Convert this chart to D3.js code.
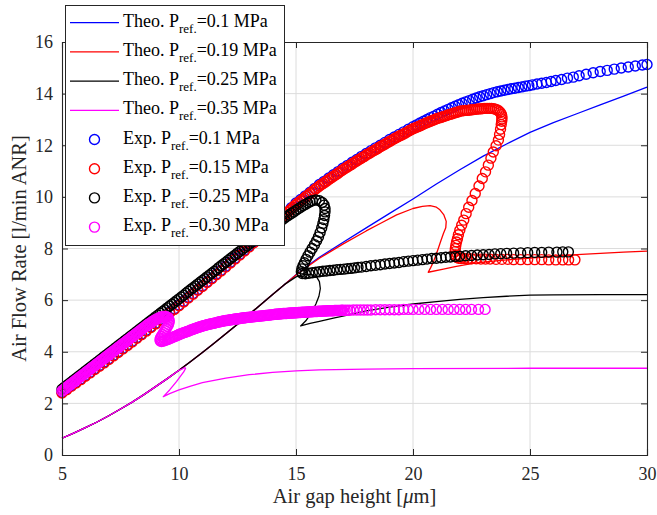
<!DOCTYPE html>
<html>
<head>
<meta charset="utf-8">
<script src="https://cdn.jsdelivr.net/npm/d3@7"></script>
<style>
  body { margin: 0; background: #fff; }
  svg { display: block; font-family: "Times New Roman", "Liberation Serif", serif; }
</style>
</head>
<body>
<div id="chart"></div>
<script>
// axis ticks
var xTicks = [5, 10, 15, 20, 25, 30];
var yTicks = [0, 2, 4, 6, 8, 10, 12, 14, 16];

// theoretical curves, [gap, flow]
var theoBase = [[5,0.65],[5.5,0.85],[6,1.06],[6.5,1.28],[7,1.52],[7.5,1.78],[8,2.05],[8.5,2.34],[9,2.65],[9.5,2.96],[10,3.28]];
var theoMid = [[10.5,3.62],[11,3.97],[11.5,4.33],[12,4.7],[12.5,5.07],[13,5.45],[13.5,5.83],[14,6.22],[14.5,6.6]];
var theoBlueTail = [[15,6.98],[15.5,7.33],[16,7.66],[17,8.23],[18,8.8],[19,9.36],[20,9.92],[21,10.5],[22,11.05],[23,11.58],[24,12.05],[25,12.5],[26,12.88],[27,13.22],[28,13.56],[29,13.9],[30,14.25]];
var theoRedTail = [[15,6.97],[15.5,7.3],[16,7.62],[17,8.17],[18,8.68],[18.6,8.97],[19.3,9.3],[20,9.55],[20.4,9.63],[20.73,9.66],[21,9.6],[21.15,9.5],[21.32,9.3],[21.42,9.05],[21.4,8.8],[21.3,8.58],[21.18,8.27],[21.08,8.0],[20.97,7.72],[20.87,7.48],[20.75,7.25],[20.65,7.08],[21.3,7.2],[21.8,7.3],[22.5,7.41],[23,7.47],[24,7.56],[25,7.63],[26,7.7],[27,7.76],[28,7.81],[29,7.86],[30,7.9]];
var theoBlackTail = [[15,6.9],[15.35,7.0],[15.65,7.0],[15.88,6.9],[16.0,6.72],[16.04,6.45],[15.98,6.15],[15.85,5.85],[15.65,5.5],[15.42,5.2],[15.2,5.0],[15.6,5.1],[16,5.18],[16.6,5.3],[17.2,5.42],[18,5.58],[19,5.73],[20,5.85],[21,5.94],[22,6.03],[23,6.1],[24,6.15],[25,6.19],[26,6.2],[28,6.21],[30,6.21]];
var theoMagentaTail = [[10.15,3.34],[10.25,3.39],[10.28,3.35],[10.2,3.22],[9.9,2.85],[9.6,2.52],[9.33,2.26],[9.6,2.38],[10,2.52],[10.5,2.67],[11,2.8],[12,2.98],[13,3.11],[14,3.2],[15,3.26],[16,3.3],[18,3.33],[20,3.35],[25,3.36],[30,3.36]];

// experimental points, [gap, flow]
var expBlue = [[5,2.43],[5.2,2.56],[5.4,2.69],[5.6,2.82],[5.8,2.95],[6,3.08],[6.2,3.21],[6.4,3.34],[6.6,3.47],[6.8,3.6],[7,3.73],[7.2,3.87],[7.4,4.0],[7.6,4.14],[7.8,4.27],[8,4.41],[8.2,4.55],[8.4,4.69],[8.6,4.83],[8.8,4.97],[9,5.11],[9.2,5.25],[9.4,5.39],[9.6,5.53],[9.8,5.67],[10,5.81],[10.2,5.96],[10.4,6.11],[10.6,6.26],[10.8,6.41],[11,6.56],[11.2,6.71],[11.4,6.86],[11.6,7.01],[11.8,7.16],[12,7.31],[12.2,7.47],[12.4,7.62],[12.6,7.78],[12.8,7.93],[13,8.09],[13.2,8.25],[13.4,8.41],[13.6,8.57],[13.8,8.73],[14,8.9],[14.2,9.07],[14.4,9.24],[14.6,9.41],[14.8,9.58],[15,9.76],[15.2,9.9],[15.4,10.04],[15.6,10.18],[15.8,10.33],[16,10.48],[16.2,10.6],[16.4,10.73],[16.6,10.86],[16.8,10.98],[17,11.11],[17.2,11.22],[17.4,11.34],[17.6,11.45],[17.8,11.57],[18,11.68],[18.2,11.79],[18.4,11.9],[18.6,12.0],[18.8,12.11],[19,12.22],[19.2,12.32],[19.4,12.42],[19.6,12.52],[19.8,12.62],[20,12.72],[20.15,12.79],[20.3,12.86],[20.45,12.93],[20.6,13.0],[20.75,13.07],[20.9,13.13],[21.05,13.2],[21.2,13.27],[21.35,13.33],[21.5,13.39],[21.65,13.45],[21.8,13.51],[21.95,13.57],[22.1,13.63],[22.25,13.68],[22.4,13.73],[22.55,13.78],[22.7,13.83],[22.85,13.88],[23,13.92],[23.15,13.96],[23.3,14.0],[23.45,14.04],[23.6,14.07],[23.75,14.1],[23.9,14.13],[24.05,14.16],[24.2,14.19],[24.35,14.21],[24.5,14.24],[24.65,14.26],[24.8,14.29],[24.95,14.31],[25.1,14.34],[25.3,14.37],[25.5,14.4],[25.7,14.43],[25.9,14.47],[26.1,14.51],[26.35,14.55],[26.6,14.6],[26.85,14.64],[27.1,14.69],[27.4,14.75],[27.7,14.81],[28,14.86],[28.3,14.9],[28.6,14.95],[28.9,14.99],[29.2,15.03],[29.5,15.07],[29.8,15.11],[30,15.13]];

var expRed = [[5,2.4],[5.2,2.53],[5.4,2.66],[5.6,2.79],[5.8,2.92],[6,3.05],[6.2,3.18],[6.4,3.31],[6.6,3.44],[6.8,3.57],[7,3.7],[7.2,3.84],[7.4,3.97],[7.6,4.11],[7.8,4.24],[8,4.38],[8.2,4.52],[8.4,4.66],[8.6,4.8],[8.8,4.94],[9,5.08],[9.2,5.22],[9.4,5.36],[9.6,5.5],[9.8,5.64],[10,5.78],[10.2,5.93],[10.4,6.08],[10.6,6.23],[10.8,6.38],[11,6.53],[11.2,6.68],[11.4,6.83],[11.6,6.98],[11.8,7.13],[12,7.28],[12.2,7.44],[12.4,7.59],[12.6,7.75],[12.8,7.9],[13,8.06],[13.2,8.22],[13.4,8.38],[13.6,8.54],[13.8,8.7],
    [14,8.86],[14.08,8.93],[14.16,9.0],[14.24,9.06],[14.32,9.13],[14.4,9.2],[14.48,9.27],[14.56,9.33],[14.64,9.4],[14.72,9.46],[14.8,9.53],[14.88,9.6],[14.96,9.67],[15.04,9.73],[15.12,9.79],[15.2,9.84],[15.28,9.9],[15.36,9.96],[15.44,10.02],[15.52,10.07],[15.6,10.13],[15.68,10.19],[15.76,10.25],[15.84,10.31],[15.92,10.36],[16,10.42],
    [16.08,10.47],[16.16,10.52],[16.24,10.57],[16.32,10.62],[16.4,10.67],[16.48,10.72],[16.56,10.77],[16.64,10.82],[16.72,10.87],[16.8,10.92],[16.88,10.97],[16.96,11.02],[17.04,11.07],[17.12,11.12],[17.2,11.16],[17.28,11.21],[17.36,11.25],[17.44,11.3],[17.52,11.35],[17.6,11.39],[17.68,11.44],[17.76,11.48],[17.84,11.53],[17.92,11.57],[18,11.62],
    [18.08,11.66],[18.16,11.7],[18.24,11.75],[18.32,11.79],[18.4,11.83],[18.48,11.87],[18.56,11.92],[18.64,11.96],[18.72,12.0],[18.8,12.04],[18.88,12.09],[18.96,12.13],[19.04,12.17],[19.12,12.21],[19.2,12.25],[19.28,12.29],[19.36,12.33],[19.44,12.37],[19.52,12.4],[19.6,12.44],[19.68,12.48],[19.76,12.52],[19.84,12.56],[19.92,12.6],[20,12.64],
    [20.08,12.67],[20.16,12.7],[20.24,12.73],[20.32,12.76],[20.4,12.8],[20.48,12.83],[20.56,12.86],[20.64,12.89],[20.72,12.92],[20.8,12.95],[20.88,12.98],[20.96,13.01],[21.04,13.04],[21.12,13.06],[21.2,13.08],[21.28,13.11],[21.36,13.13],[21.44,13.15],[21.52,13.18],[21.6,13.2],[21.68,13.22],[21.76,13.25],[21.84,13.27],[21.92,13.29],[22,13.32],
    [22.08,13.33],[22.16,13.34],[22.24,13.35],[22.32,13.35],[22.4,13.36],[22.48,13.37],[22.56,13.38],[22.64,13.39],[22.72,13.4],[22.8,13.41],[22.88,13.41],[22.96,13.42],[23.04,13.43],[23.12,13.43],[23.2,13.43],[23.28,13.43],[23.36,13.43],[23.44,13.42],[23.52,13.4],[23.6,13.37],[23.67,13.33],[23.73,13.27],[23.78,13.19],[23.8,13.1],
    [23.8,13.02],[23.79,12.93],[23.77,12.8],[23.74,12.62],[23.7,12.42],[23.65,12.2],[23.55,11.98],[23.43,11.74],[23.33,11.5],[23.22,11.23],[23.1,10.97],[22.96,10.71],[22.82,10.42],[22.66,10.13],[22.52,9.86],[22.38,9.6],[22.27,9.35],[22.17,9.1],[22.08,8.9],[22.0,8.71],[21.94,8.53],[21.9,8.38],[21.86,8.25],[21.83,8.12],[21.81,8.0],[21.8,7.88],[21.82,7.75],[21.86,7.66],[21.95,7.62],[22.05,7.61],[22.2,7.61],[22.35,7.6],[22.5,7.6],[22.7,7.6],[22.9,7.59],[23.1,7.59],[23.3,7.59],[23.55,7.58],[23.8,7.58],[24.05,7.58],[24.3,7.57],[24.6,7.57],[24.9,7.57],[25.2,7.57],[25.5,7.57],[25.8,7.56],[26.1,7.56],[26.4,7.56],[26.65,7.56],[26.92,7.56]];

var expBlack = [[5,2.55],[5.1,2.62],[5.2,2.69],[5.3,2.76],[5.4,2.83],[5.5,2.9],[5.6,2.97],[5.7,3.04],[5.8,3.11],[5.9,3.18],[6,3.25],[6.1,3.32],[6.2,3.39],[6.3,3.46],[6.4,3.53],[6.5,3.6],[6.6,3.67],[6.7,3.74],[6.8,3.81],[6.9,3.88],[7,3.95],[7.1,4.02],[7.2,4.09],[7.3,4.16],[7.4,4.23],[7.5,4.3],[7.6,4.37],[7.7,4.44],[7.8,4.51],[7.9,4.58],[8,4.65],[8.1,4.72],[8.2,4.79],[8.3,4.86],[8.4,4.93],[8.5,5.0],[8.6,5.07],[8.7,5.14],[8.8,5.21],[8.9,5.28],[9,5.35],[9.1,5.42],[9.2,5.49],[9.3,5.56],[9.4,5.63],[9.5,5.7],[9.6,5.77],[9.7,5.84],[9.8,5.91],[9.9,5.98],
    [10,6.05],[10.1,6.12],[10.2,6.19],[10.3,6.27],[10.4,6.34],[10.5,6.41],[10.6,6.48],[10.7,6.55],[10.8,6.62],[10.9,6.69],[11,6.76],[11.1,6.83],[11.2,6.9],[11.3,6.97],[11.4,7.04],[11.5,7.11],[11.6,7.18],[11.7,7.26],[11.8,7.33],[11.9,7.4],[12,7.47],[12.1,7.54],[12.2,7.61],[12.3,7.68],[12.4,7.75],[12.5,7.82],[12.6,7.89],[12.7,7.96],[12.8,8.03],[12.9,8.1],[13,8.17],[13.1,8.24],[13.2,8.31],[13.3,8.38],[13.4,8.45],[13.5,8.51],[13.6,8.58],[13.7,8.65],[13.8,8.72],[13.9,8.78],[14,8.85],[14.1,8.91],[14.2,8.98],[14.3,9.04],[14.4,9.11],[14.5,9.17],[14.6,9.24],[14.7,9.3],[14.8,9.36],[14.9,9.42],[15,9.48],[15.1,9.54],[15.2,9.6],[15.3,9.66],[15.4,9.71],[15.5,9.76],[15.6,9.81],[15.7,9.85],
    [15.85,9.88],[16,9.85],[16.12,9.78],[16.2,9.68],[16.24,9.55],[16.24,9.42],[16.22,9.28],[16.19,9.12],[16.15,8.97],[16.1,8.8],[16.03,8.62],[15.96,8.45],[15.88,8.3],[15.79,8.15],[15.69,8.0],[15.6,7.86],[15.51,7.72],[15.43,7.58],[15.36,7.45],[15.3,7.33],[15.25,7.21],[15.23,7.1],[15.27,7.03],
    [15.4,7.02],[15.55,7.04],[15.7,7.06],[15.85,7.08],[16,7.1],[16.15,7.12],[16.3,7.13],[16.45,7.15],[16.6,7.16],[16.75,7.18],[16.9,7.19],[17.05,7.2],[17.2,7.22],[17.35,7.23],[17.5,7.25],[17.65,7.27],[17.8,7.28],[18,7.3],[18.2,7.33],[18.4,7.35],[18.6,7.37],[18.8,7.4],[19,7.42],[19.2,7.44],[19.4,7.46],[19.6,7.49],[19.8,7.51],[20,7.53],[20.2,7.55],[20.4,7.57],[20.6,7.59],[20.8,7.61],[21,7.62],[21.2,7.64],[21.4,7.66],[21.6,7.67],[21.8,7.69],[22,7.7],[22.25,7.72],[22.5,7.73],[22.75,7.75],[23,7.76],[23.25,7.77],[23.5,7.79],[23.75,7.8],[24,7.81],[24.3,7.82],[24.6,7.83],[24.9,7.84],[25.2,7.85],[25.5,7.85],[25.8,7.86],[26.15,7.86],[26.4,7.87],[26.64,7.87]];

var expMagenta = [[5,2.48],[5.05,2.52],[5.1,2.55],[5.15,2.59],[5.2,2.62],[5.25,2.66],[5.3,2.69],[5.35,2.73],[5.4,2.76],[5.45,2.8],[5.5,2.83],[5.55,2.87],[5.6,2.9],[5.65,2.94],[5.7,2.97],[5.75,3.01],[5.8,3.04],[5.85,3.08],[5.9,3.11],[5.95,3.15],[6,3.18],[6.05,3.22],[6.1,3.25],[6.15,3.29],[6.2,3.32],[6.25,3.36],[6.3,3.39],[6.35,3.43],[6.4,3.46],[6.45,3.5],[6.5,3.53],[6.55,3.57],[6.6,3.6],[6.65,3.64],[6.7,3.67],[6.75,3.71],[6.8,3.74],[6.85,3.78],[6.9,3.81],[6.95,3.85],
    [7,3.88],[7.05,3.92],[7.1,3.95],[7.15,3.99],[7.2,4.02],[7.25,4.06],[7.3,4.09],[7.35,4.13],[7.4,4.16],[7.45,4.2],[7.5,4.23],[7.55,4.27],[7.6,4.3],[7.65,4.34],[7.7,4.37],[7.75,4.41],[7.8,4.44],[7.85,4.48],[7.9,4.51],[7.95,4.55],[8,4.58],[8.05,4.62],[8.1,4.65],[8.15,4.69],[8.2,4.72],[8.25,4.76],[8.3,4.79],[8.35,4.83],[8.4,4.86],[8.45,4.9],[8.5,4.93],[8.55,4.97],[8.6,5.0],[8.65,5.04],[8.7,5.07],[8.75,5.1],[8.8,5.13],[8.85,5.16],[8.9,5.19],[8.95,5.22],[9,5.24],[9.05,5.27],[9.1,5.29],[9.15,5.31],[9.2,5.33],[9.25,5.35],[9.3,5.36],[9.35,5.37],[9.4,5.37],[9.45,5.36],[9.5,5.34],
    [9.55,5.3],[9.58,5.22],[9.58,5.14],[9.55,5.06],[9.5,4.98],[9.45,4.9],[9.4,4.82],[9.35,4.74],[9.3,4.67],[9.25,4.6],[9.21,4.53],[9.19,4.47],[9.2,4.42],[9.25,4.4],[9.31,4.41],[9.37,4.43],[9.43,4.45],[9.49,4.47],[9.55,4.49],[9.61,4.51],[9.67,4.53],[9.73,4.56],[9.79,4.58],[9.85,4.6],[9.91,4.63],[9.97,4.65],
    [10,4.67],[10.05,4.69],[10.1,4.7],[10.15,4.72],[10.2,4.74],[10.25,4.75],[10.3,4.77],[10.35,4.79],[10.4,4.8],[10.45,4.82],[10.5,4.84],[10.55,4.85],[10.6,4.87],[10.65,4.89],[10.7,4.9],[10.75,4.92],[10.8,4.94],[10.85,4.95],[10.9,4.97],[10.95,4.98],[11,5.0],[11.05,5.01],[11.1,5.02],[11.15,5.03],[11.2,5.05],[11.25,5.06],[11.3,5.07],[11.35,5.08],[11.4,5.09],[11.45,5.1],[11.5,5.11],[11.55,5.12],[11.6,5.13],[11.65,5.14],[11.7,5.15],[11.75,5.16],[11.8,5.17],[11.85,5.18],[11.9,5.19],[11.95,5.2],
    [12,5.21],[12.05,5.21],[12.1,5.22],[12.15,5.23],[12.2,5.24],[12.25,5.24],[12.3,5.25],[12.35,5.26],[12.4,5.27],[12.45,5.27],[12.5,5.28],[12.55,5.28],[12.6,5.29],[12.65,5.3],[12.7,5.31],[12.75,5.31],[12.8,5.32],[12.85,5.32],[12.9,5.33],[12.95,5.33],[13,5.34],[13.05,5.34],[13.1,5.35],[13.15,5.35],[13.2,5.36],[13.25,5.36],[13.3,5.37],[13.35,5.37],[13.4,5.38],[13.45,5.38],[13.5,5.39],[13.55,5.39],[13.6,5.4],[13.65,5.4],[13.7,5.41],[13.75,5.41],[13.8,5.42],[13.85,5.42],[13.9,5.43],[13.95,5.43],
    [14,5.44],[14.05,5.44],[14.1,5.45],[14.15,5.45],[14.2,5.45],[14.25,5.46],[14.3,5.46],[14.35,5.47],[14.4,5.47],[14.45,5.48],[14.5,5.48],[14.55,5.48],[14.6,5.48],[14.65,5.49],[14.7,5.49],[14.75,5.5],[14.8,5.5],[14.85,5.5],[14.9,5.5],[14.95,5.51],[15,5.51],[15.05,5.51],[15.1,5.52],[15.15,5.52],[15.2,5.52],[15.25,5.53],[15.3,5.53],[15.35,5.53],[15.4,5.53],[15.45,5.54],[15.5,5.54],[15.55,5.54],[15.6,5.55],[15.65,5.55],[15.7,5.55],[15.75,5.56],[15.8,5.56],[15.85,5.56],[15.9,5.56],[15.95,5.57],
    [16,5.57],[16.05,5.57],[16.1,5.57],[16.15,5.58],[16.2,5.58],[16.25,5.58],[16.3,5.58],[16.35,5.59],[16.4,5.59],[16.45,5.59],[16.5,5.59],[16.55,5.59],[16.6,5.59],[16.65,5.6],[16.7,5.6],[16.75,5.6],[16.8,5.6],[16.85,5.6],[16.9,5.6],[16.95,5.61],[17,5.61],
    [17.1,5.61],[17.2,5.61],[17.3,5.61],[17.45,5.62],[17.6,5.62],[17.75,5.62],[17.9,5.62],[18.05,5.62],[18.2,5.62],[18.4,5.63],[18.6,5.63],[18.8,5.63],[19,5.63],[19.2,5.63],[19.4,5.63],[19.6,5.64],[19.8,5.64],[20,5.64],[20.25,5.64],[20.5,5.64],[20.75,5.64],[21,5.64],[21.25,5.64],[21.5,5.64],[21.75,5.64],[22,5.64],[22.25,5.64],[22.5,5.64],[22.8,5.64],[23.08,5.64]];

// legend entries
var legendItems = [
    { kind: "line", color: "#0000ff", label: "Theo. P", val: "=0.1 MPa" },
    { kind: "line", color: "#ff0000", label: "Theo. P", val: "=0.19 MPa" },
    { kind: "line", color: "#000000", label: "Theo. P", val: "=0.25 MPa" },
    { kind: "line", color: "#ff00ff", label: "Theo. P", val: "=0.35 MPa" },
    { kind: "dot", color: "#0000ff", label: "Exp. P", val: "=0.1 MPa" },
    { kind: "dot", color: "#ff0000", label: "Exp. P", val: "=0.15 MPa" },
    { kind: "dot", color: "#000000", label: "Exp. P", val: "=0.25 MPa" },
    { kind: "dot", color: "#ff00ff", label: "Exp. P", val: "=0.30 MPa" }
];

function init() {
    var w = 657, h = 515;
    var margin = { top: 42, right: 10, bottom: 60, left: 62 };
    var innerWidth = w - margin.left - margin.right;   // 585
    var innerHeight = h - margin.top - margin.bottom;  // 413
    var axisColor = "#262626";

    var svg = d3.select("#chart").append("svg")
        .attr("width", w)
        .attr("height", h);

    var xScale = d3.scaleLinear().domain([5, 30]).range([0, innerWidth]);
    var yScale = d3.scaleLinear().domain([0, 16]).range([innerHeight, 0]);

    var g = svg.append("g")
        .attr("transform", `translate(${margin.left}, ${margin.top})`);

    // grid
    g.append("g").selectAll("line").data(xTicks.slice(1, -1)).enter().append("line")
        .attr("x1", d => xScale(d)).attr("x2", d => xScale(d))
        .attr("y1", 0).attr("y2", innerHeight)
        .attr("stroke", "#dcdcdc").attr("stroke-width", 1);
    g.append("g").selectAll("line").data(yTicks.slice(1, -1)).enter().append("line")
        .attr("y1", d => yScale(d)).attr("y2", d => yScale(d))
        .attr("x1", 0).attr("x2", innerWidth)
        .attr("stroke", "#dcdcdc").attr("stroke-width", 1);

    // theoretical lines
    var line = d3.line().x(d => xScale(d[0])).y(d => yScale(d[1]));
    var theo = [
        { color: "#0000ff", pts: theoBase.concat(theoMid, theoBlueTail) },
        { color: "#ff0000", pts: theoBase.concat(theoMid, theoRedTail) },
        { color: "#000000", pts: theoBase.concat(theoMid, theoBlackTail) },
        { color: "#ff00ff", pts: theoBase.concat(theoMagentaTail) }
    ];
    g.append("g").selectAll("path").data(theo).enter().append("path")
        .attr("d", d => line(d.pts))
        .attr("fill", "none")
        .attr("stroke", d => d.color)
        .attr("stroke-width", 1.3)
        .attr("stroke-linejoin", "round");

    // experimental markers
    var exp = [
        { color: "#0000ff", pts: expBlue },
        { color: "#ff0000", pts: expRed },
        { color: "#000000", pts: expBlack },
        { color: "#ff00ff", pts: expMagenta }
    ];
    exp.forEach(function (s) {
        g.append("g").selectAll("circle").data(s.pts).enter().append("circle")
            .attr("cx", d => xScale(d[0]))
            .attr("cy", d => yScale(d[1]))
            .attr("r", 5)
            .attr("fill", "none")
            .attr("stroke", s.color)
            .attr("stroke-width", 1.4);
    });

    // axes (ticks pointing inward, box all round)
    var xAxis = d3.axisBottom(xScale).tickValues(xTicks).tickSize(-6).tickPadding(12);
    var yAxis = d3.axisLeft(yScale).tickValues(yTicks).tickSize(-6).tickPadding(9);
    var xTop = d3.axisTop(xScale).tickValues(xTicks).tickSize(-6).tickFormat("");
    var yRight = d3.axisRight(yScale).tickValues(yTicks).tickSize(-6).tickFormat("");

    g.append("g").attr("transform", `translate(0, ${innerHeight})`).call(xAxis);
    g.append("g").call(yAxis);
    g.append("g").call(xTop);
    g.append("g").attr("transform", `translate(${innerWidth}, 0)`).call(yRight);

    g.selectAll(".domain").attr("stroke", axisColor).attr("stroke-width", 1.1);
    g.selectAll(".tick line").attr("stroke", axisColor).attr("stroke-width", 1);
    g.selectAll(".tick text")
        .attr("fill", axisColor)
        .style("font-size", "18px")
        .style("font-family", "'Times New Roman', 'Liberation Serif', serif");

    // axis labels
    var xl = svg.append("text")
        .attr("x", margin.left + innerWidth / 2)
        .attr("y", 503)
        .attr("text-anchor", "middle")
        .attr("fill", axisColor)
        .style("font-size", "20.5px");
    xl.append("tspan").text("Air gap height [");
    xl.append("tspan").style("font-style", "italic").text("\u03bc");
    xl.append("tspan").text("m]");

    svg.append("text")
        .attr("transform", `translate(26, ${margin.top + innerHeight / 2}) rotate(-90)`)
        .attr("text-anchor", "middle")
        .attr("fill", axisColor)
        .style("font-size", "20.5px")
        .text("Air Flow Rate [l/min ANR]");

    // legend
    var lg = svg.append("g");
    lg.append("rect")
        .attr("x", 65.5).attr("y", 5.5)
        .attr("width", 219).attr("height", 240)
        .attr("fill", "#fff")
        .attr("stroke", axisColor).attr("stroke-width", 1);

    var rows = lg.selectAll("g.item").data(legendItems).enter().append("g")
        .attr("class", "item")
        .attr("transform", (d, i) => `translate(0, ${22.7 + i * 29.2})`);

    rows.filter(d => d.kind === "line").append("line")
        .attr("x1", 70).attr("x2", 119).attr("y1", 0).attr("y2", 0)
        .attr("stroke", d => d.color).attr("stroke-width", 1.3);
    rows.filter(d => d.kind === "dot").append("circle")
        .attr("cx", 94.5).attr("cy", 0).attr("r", 5)
        .attr("fill", "none")
        .attr("stroke", d => d.color).attr("stroke-width", 1.4);

    var txt = rows.append("text")
        .attr("x", 123).attr("y", 4)
        .attr("fill", "#000")
        .style("font-size", "18px");
    txt.append("tspan").text(d => d.label);
    txt.append("tspan").attr("dy", 6).style("font-size", "13px").text("ref.");
    txt.append("tspan").attr("dy", -6).text(d => d.val);
}

window.onload = init;
</script>
</body>
</html>
